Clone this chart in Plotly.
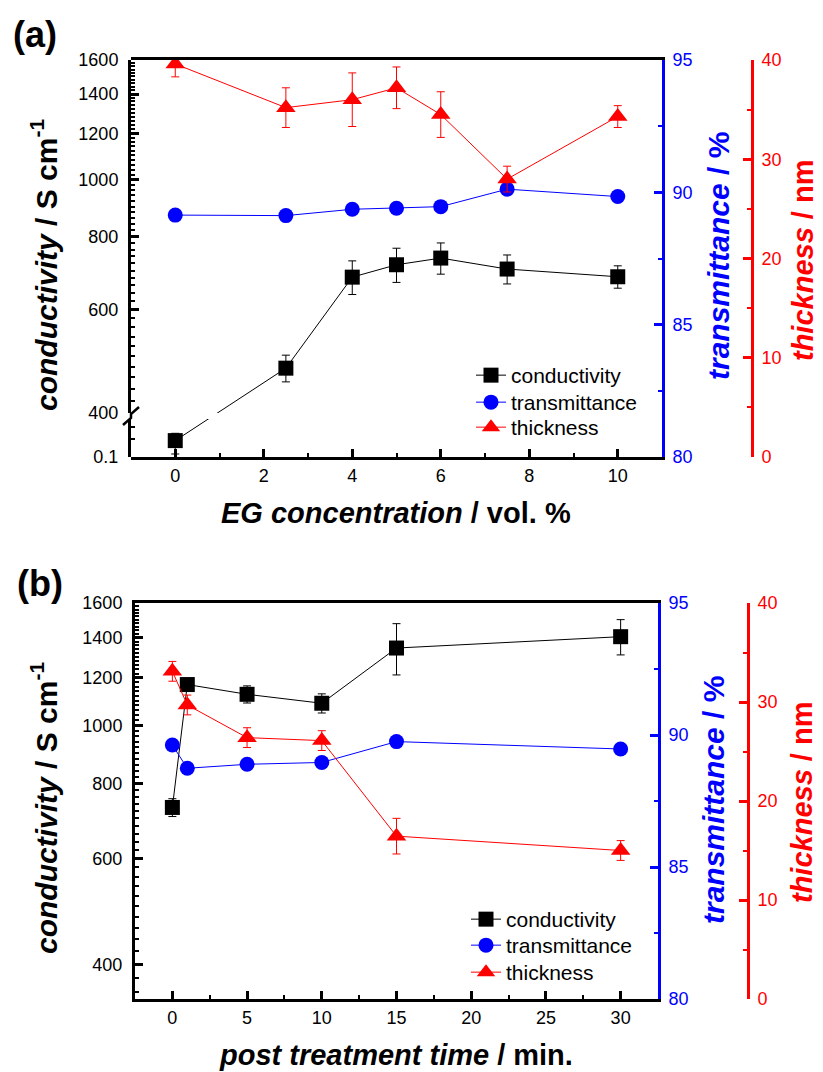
import numpy as np
import plotly.graph_objects as go

W, H = 823, 1072

# ---- (a) effect of EG concentration ----
eg_conc = [0, 2.5, 4, 5, 6, 7.5, 10]
cond_a = [0.27, 477, 682, 716, 735, 704, 683]
cond_a_err = [0.15, 25, 45, 48, 45, 40, 30]
trans_a = [89.14, 89.12, 89.36, 89.40, 89.46, 90.12, 89.84]
thick_a = [39.6, 35.2, 36.0, 37.2, 34.5, 28.0, 34.3]
thick_a_err = [1.3, 2.0, 2.7, 2.1, 2.3, 1.3, 1.1]

# ---- (b) effect of post treatment time ----
post_time = [0, 1, 5, 10, 15, 30]
cond_b = [730, 1170, 1127, 1089, 1346, 1406]
cond_b_err = [25, 25, 37, 40, 132, 95]
trans_b = [89.62, 88.74, 88.89, 88.96, 89.75, 89.47]
thick_b = [33.1, 29.7, 26.4, 26.1, 16.45, 15.0]
thick_b_err = [1.0, 1.0, 1.0, 1.0, 1.8, 1.0]

cond_ticks = [400, 600, 800, 1000, 1200, 1400, 1600]
cond_low_ticks = [0.1]
trans_ticks = [80, 85, 90, 95]
thick_ticks = [0, 10, 20, 30, 40]
eg_ticks = [0, 2, 4, 6, 8, 10]
time_ticks = [0, 5, 10, 15, 20, 25, 30]

BLACK, BLUE, RED = "#000000", "#0000ff", "#ff0000"
FONT = "Liberation Sans"


def px(p):
    return p / W


def py(p):
    return 1 - p / H


# panel geometry (paper fractions)
xa_dom = [px(131), px(662)]
xb_dom = [px(135), px(658)]
ya_full = [py(457), py(60)]
ya_up = [py(413), py(60)]
ya_low = [py(457), py(419)]
yb_full = [py(999), py(603)]

rng_up = [np.log10(400), np.log10(1600)]
rng_low = [-1.0, 0.0]


def to_frac(v, dom, rng):
    return dom[0] + (dom[1] - dom[0]) * (np.log10(v) - rng[0]) / (rng[1] - rng[0])


def from_frac(f, dom, rng):
    return 10 ** (rng[0] + (f - dom[0]) / (dom[1] - dom[0]) * (rng[1] - rng[0]))


# the segment joining the first two conductivity points crosses the axis break:
# split it into one piece per axis segment so both pieces stay collinear
fa = to_frac(cond_a[0], ya_low, rng_low)
fb = to_frac(cond_a[1], ya_up, rng_up)
cond_up_start = from_frac(fa, ya_up, rng_up)
cond_low_end = from_frac(fb, ya_low, rng_low)

fig = go.Figure()

sq = dict(symbol="square", size=15, color=BLACK)
ci = dict(symbol="circle", size=15, color=BLUE)
tri = dict(symbol="triangle-up", size=17, color=RED)
err_k = dict(type="data", thickness=1, width=4, color=BLACK)
err_r = dict(type="data", thickness=1, width=4, color=RED)

# ---------- panel (a) ----------
fig.add_trace(go.Scatter(x=[eg_conc[0], eg_conc[1]], y=[cond_up_start, cond_a[1]],
                         mode="lines", line=dict(color=BLACK, width=1),
                         xaxis="x", yaxis="y", showlegend=False, hoverinfo="skip"))
fig.add_trace(go.Scatter(x=[eg_conc[0], eg_conc[1]], y=[cond_a[0], cond_low_end],
                         mode="lines", line=dict(color=BLACK, width=1),
                         xaxis="x", yaxis="y2", showlegend=False, hoverinfo="skip"))
fig.add_trace(go.Scatter(x=eg_conc[1:], y=cond_a[1:], name="conductivity",
                         mode="lines+markers", marker=sq, line=dict(color=BLACK, width=1),
                         error_y=dict(array=cond_a_err[1:], **err_k),
                         xaxis="x", yaxis="y", legend="legend"))
fig.add_trace(go.Scatter(x=eg_conc[:1], y=cond_a[:1], name="conductivity",
                         mode="markers", marker=sq,
                         error_y=dict(array=cond_a_err[:1], **err_k),
                         xaxis="x", yaxis="y2", showlegend=False))
fig.add_trace(go.Scatter(x=eg_conc, y=trans_a, name="transmittance",
                         mode="lines+markers", marker=ci, line=dict(color=BLUE, width=1),
                         xaxis="x", yaxis="y3", legend="legend2"))
fig.add_trace(go.Scatter(x=eg_conc, y=thick_a, name="thickness",
                         mode="lines+markers", marker=tri, line=dict(color=RED, width=1),
                         error_y=dict(array=thick_a_err, **err_r),
                         xaxis="x", yaxis="y4", legend="legend3"))

# ---------- panel (b) ----------
fig.add_trace(go.Scatter(x=post_time, y=cond_b, name="conductivity",
                         mode="lines+markers", marker=sq, line=dict(color=BLACK, width=1),
                         error_y=dict(array=cond_b_err, **err_k),
                         xaxis="x2", yaxis="y5", legend="legend4"))
fig.add_trace(go.Scatter(x=post_time, y=trans_b, name="transmittance",
                         mode="lines+markers", marker=ci, line=dict(color=BLUE, width=1),
                         xaxis="x2", yaxis="y6", legend="legend5"))
fig.add_trace(go.Scatter(x=post_time, y=thick_b, name="thickness",
                         mode="lines+markers", marker=tri, line=dict(color=RED, width=1),
                         error_y=dict(array=thick_b_err, **err_r),
                         xaxis="x2", yaxis="y7", legend="legend6"))

tickfont_k = dict(family=FONT, size=18, color=BLACK)
tickfont_b = dict(family=FONT, size=18, color=BLUE)
tickfont_r = dict(family=FONT, size=18, color=RED)

base = dict(showgrid=False, zeroline=False, showline=True, linewidth=3,
            ticks="inside", tickwidth=3, ticklen=8)


def minor(color, **kw):
    return dict(ticks="inside", ticklen=4, tickwidth=2, tickcolor=color, **kw)


cond_minor_a = [v for v in range(420, 1600, 20) if v % 200 != 0]
cond_minor_b = [v for v in range(360, 1600, 20) if v % 200 != 0]


def legend_box(x, y_top):
    return dict(x=px(x), y=py(y_top), xanchor="left", yanchor="top",
                bgcolor="rgba(0,0,0,0)", font=dict(family=FONT, size=21, color=BLACK))


fig.update_layout(
    width=W, height=H, margin=dict(l=0, r=0, t=0, b=0, autoexpand=False),
    paper_bgcolor="white", plot_bgcolor="rgba(0,0,0,0)",
    font=dict(family=FONT, color=BLACK),
    xaxis=dict(domain=xa_dom, anchor="y3", range=[-1, 11], tickvals=eg_ticks,
               mirror=True, linecolor=BLACK, tickcolor=BLACK, tickfont=tickfont_k,
               minor=minor(BLACK, dtick=1), **base),
    yaxis=dict(domain=ya_up, anchor="x", type="log", range=rng_up,
               tickvals=cond_ticks, ticktext=[str(v) for v in cond_ticks],
               linecolor=BLACK, tickcolor=BLACK, tickfont=tickfont_k, ticklabelstandoff=6,
               minor=minor(BLACK, tickvals=cond_minor_a), **base),
    yaxis2=dict(domain=ya_low, anchor="x", type="log", range=rng_low,
                tickvals=cond_low_ticks, ticktext=["0.1"],
                linecolor=BLACK, tickcolor=BLACK, tickfont=tickfont_k, ticklabelstandoff=6,
                minor=minor(BLACK, tickvals=[0.3, 0.6]), **base),
    yaxis3=dict(domain=ya_full, anchor="x", side="right", range=[80, 95],
                tickvals=trans_ticks, linecolor=BLUE, tickcolor=BLUE, tickfont=tickfont_b,
                ticklabelstandoff=4, minor=minor(BLUE, dtick=2.5), **base),
    yaxis4=dict(domain=ya_full, anchor="free", position=px(752), side="right",
                range=[0, 40], tickvals=thick_ticks, linecolor=RED, tickcolor=RED,
                tickfont=tickfont_r, ticklabelstandoff=4,
                minor=minor(RED, dtick=5), **base),
    xaxis2=dict(domain=xb_dom, anchor="y5", range=[-2.5, 32.5], tickvals=time_ticks,
                mirror=True, linecolor=BLACK, tickcolor=BLACK, tickfont=tickfont_k,
                minor=minor(BLACK, dtick=2.5), **base),
    yaxis5=dict(domain=yb_full, anchor="x2", type="log",
                range=[np.log10(350), np.log10(1600)],
                tickvals=cond_ticks, ticktext=[str(v) for v in cond_ticks],
                linecolor=BLACK, tickcolor=BLACK, tickfont=tickfont_k, ticklabelstandoff=6,
                minor=minor(BLACK, tickvals=cond_minor_b), **base),
    yaxis6=dict(overlaying="y5", anchor="x2", side="right", range=[80, 95],
                tickvals=trans_ticks, linecolor=BLUE, tickcolor=BLUE, tickfont=tickfont_b,
                ticklabelstandoff=4, minor=minor(BLUE, dtick=2.5), **base),
    yaxis7=dict(overlaying="y5", anchor="free", position=px(748), side="right",
                range=[0, 40], tickvals=thick_ticks, linecolor=RED, tickcolor=RED,
                tickfont=tickfont_r, ticklabelstandoff=4,
                minor=minor(RED, dtick=5), **base),
    # one legend box per entry so the rows sit at fixed heights
    legend=legend_box(471, 355),
    legend2=legend_box(471, 382),
    legend3=legend_box(471, 407),
    legend4=legend_box(466, 899),
    legend5=legend_box(466, 925),
    legend6=legend_box(466, 952),
)

# axis break marker on the left axis of panel (a)
brk = [(123, 425), (131, 418), (131, 414), (139, 407)]
path = "M " + " L ".join(f"{px(a):.5f},{py(b):.5f}" for a, b in brk)
fig.add_shape(type="path", path=path, xref="paper", yref="paper",
              line=dict(color=BLACK, width=2.5))


def note(text, x, y, color=BLACK, size=30, angle=0):
    fig.add_annotation(text=text, x=px(x), y=py(y), xref="paper", yref="paper",
                       showarrow=False, textangle=angle, xanchor="center", yanchor="middle",
                       font=dict(family=FONT, size=size, color=color))


note("<b>(a)</b>", 35, 34, size=36)
note("<b>(b)</b>", 40, 583, size=36)

note("<b><i>conductivity</i> / S cm<sup>-1</sup></b>", 44, 265, angle=-90)
note("<b><i>transmittance</i> / %</b>", 718, 256, color=BLUE, angle=-90)
note("<b><i>thickness</i> / nm</b>", 803, 261, color=RED, size=29, angle=-90)
note("<b><i>EG concentration</i> / vol. %</b>", 396, 513, size=29)

note("<b><i>conductivity</i> / S cm<sup>-1</sup></b>", 44, 808, angle=-90)
note("<b><i>transmittance</i> / %</b>", 713, 800, color=BLUE, angle=-90)
note("<b><i>thickness</i> / nm</b>", 802, 803, color=RED, size=29, angle=-90)
note("<b><i>post treatment time</i> / min.</b>", 396, 1055, size=29)

fig.write_html("out.html")
